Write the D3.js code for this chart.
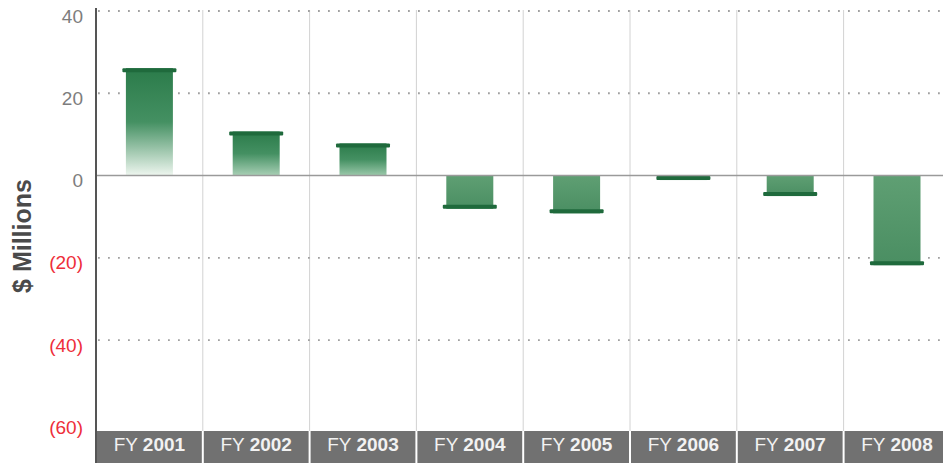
<!DOCTYPE html>
<html>
<head>
<meta charset="utf-8">
<script src="https://cdn.jsdelivr.net/npm/d3@7/dist/d3.min.js"></script>
<style>
  html, body { margin: 0; padding: 0; background: #fff; overflow: hidden; }
  svg { display: block; font-family: "Liberation Sans", Arial, Helvetica, sans-serif; }
</style>
</head>
<body>
<svg id="chart" width="943" height="463"></svg>
<script>
// Fiscal years and net result per year ($ millions)
const years = ["2001", "2002", "2003", "2004", "2005", "2006", "2007", "2008"];
const netValues = [26.1, 10.7, 7.8, -8.1, -9.2, -1.1, -5.0, -21.8];
const yTicks = [40, 20, 0, -20, -40, -60];
const yTitle = "$ Millions";

const svg = d3.select("#chart");
const W = 943, H = 463;
const left = 96, bandTop = 431;

const x = d3.scaleBand().domain(years).range([left, left + 8 * 106.8]).padding(0);
const y = d3.scaleLinear().domain([-60, 40]).range([422.3, 11]);

const data = years.map((yr, i) => ({ yr, v: netValues[i], i }));
const maxPos = d3.max(netValues);

// One gradient per bar: positive bars fade toward the zero line, taller ones fade further
const defs = svg.append("defs");
const fadeTo = d3.interpolateRgb("#78b48c", "#eef6ef");
data.forEach(d => {
  const g = defs.append("linearGradient").attr("id", `grad${d.i}`)
    .attr("x1", 0).attr("y1", 0).attr("x2", 0).attr("y2", 1);
  if (d.v >= 0) {
    const t = d.v / maxPos;
    g.append("stop").attr("offset", "0%").attr("stop-color", "#2b7b4a");
    g.append("stop").attr("offset", "50%").attr("stop-color", "#449062");
    g.append("stop").attr("offset", "100%").attr("stop-color", fadeTo(t));
  } else {
    g.append("stop").attr("offset", "0%").attr("stop-color", "#5f9f73");
    g.append("stop").attr("offset", "100%").attr("stop-color", "#4a8e62");
  }
});

// Vertical separators between fiscal years
svg.append("g").selectAll("line")
  .data(years.slice(1))
  .join("line")
  .attr("x1", d => x(d)).attr("x2", d => x(d))
  .attr("y1", 10).attr("y2", bandTop)
  .attr("stroke", "#d2d2d2").attr("stroke-width", 1);

// Dotted horizontal gridlines
svg.append("g").selectAll("line")
  .data(yTicks.filter(t => t !== 0 && t !== -60))
  .join("line")
  .attr("x1", left + 2).attr("x2", W)
  .attr("y1", d => y(d)).attr("y2", d => y(d))
  .attr("stroke", "#a0a0a0").attr("stroke-width", 1.8)
  .attr("stroke-dasharray", "1.8 8.2");

// Bars with a darker cap at the value end
const bodyW = 47, capW = 54, capH = 4;
const bars = svg.append("g").selectAll("g")
  .data(data)
  .join("g");
bars.append("rect")
  .attr("x", d => x(d.yr) + x.bandwidth() / 2 - bodyW / 2)
  .attr("width", bodyW)
  .attr("y", d => Math.min(y(d.v), y(0)))
  .attr("height", d => Math.abs(y(d.v) - y(0)))
  .attr("fill", d => `url(#grad${d.i})`);
bars.append("rect")
  .attr("x", d => x(d.yr) + x.bandwidth() / 2 - capW / 2)
  .attr("width", capW)
  .attr("y", d => d.v >= 0 ? y(d.v) : y(d.v) - capH)
  .attr("height", capH)
  .attr("rx", 1)
  .attr("fill", "#1f6a3c");

// Zero line
svg.append("line")
  .attr("x1", left).attr("x2", W)
  .attr("y1", y(0)).attr("y2", y(0))
  .attr("stroke", "#9a9a9a").attr("stroke-width", 1.6);

// Category band along the bottom
const band = svg.append("g");
band.selectAll("rect")
  .data(years)
  .join("rect")
  .attr("x", d => x(d) + (d === years[0] ? 0 : 1))
  .attr("width", d => x.bandwidth() - (d === years[0] ? 1 : 2))
  .attr("y", bandTop).attr("height", H - bandTop)
  .attr("fill", "#717171");
const lbl = band.selectAll("text")
  .data(years)
  .join("text")
  .attr("x", d => x(d) + x.bandwidth() / 2)
  .attr("y", 451)
  .attr("text-anchor", "middle")
  .attr("font-size", 19)
  .attr("fill", "#f2f2f2");
lbl.append("tspan").text("FY ");
lbl.append("tspan").attr("font-weight", "bold").text(d => d);

// Y axis
const yAxis = d3.axisLeft(y).tickValues(yTicks).tickSize(0).tickPadding(13)
  .tickFormat(d => d < 0 ? `(${Math.abs(d)})` : `${d}`);
const ya = svg.append("g").attr("transform", `translate(${left},0)`).call(yAxis);
ya.select(".domain").remove();
ya.selectAll("text")
  .attr("font-size", 19)
  .attr("dy", "0.58em")
  .attr("fill", d => d < 0 ? "#ee2e3a" : "#7d7d7d")
  .attr("font-family", "'Liberation Sans', Arial, sans-serif");
svg.append("line")
  .attr("x1", left).attr("x2", left)
  .attr("y1", 8).attr("y2", H)
  .attr("stroke", "#555").attr("stroke-width", 2);

// Y axis title
svg.append("text")
  .attr("transform", `translate(31,236) rotate(-90)`)
  .attr("text-anchor", "middle")
  .attr("font-size", 25)
  .attr("font-weight", "bold")
  .attr("fill", "#4a4a4a")
  .text(yTitle);
</script>
</body>
</html>
